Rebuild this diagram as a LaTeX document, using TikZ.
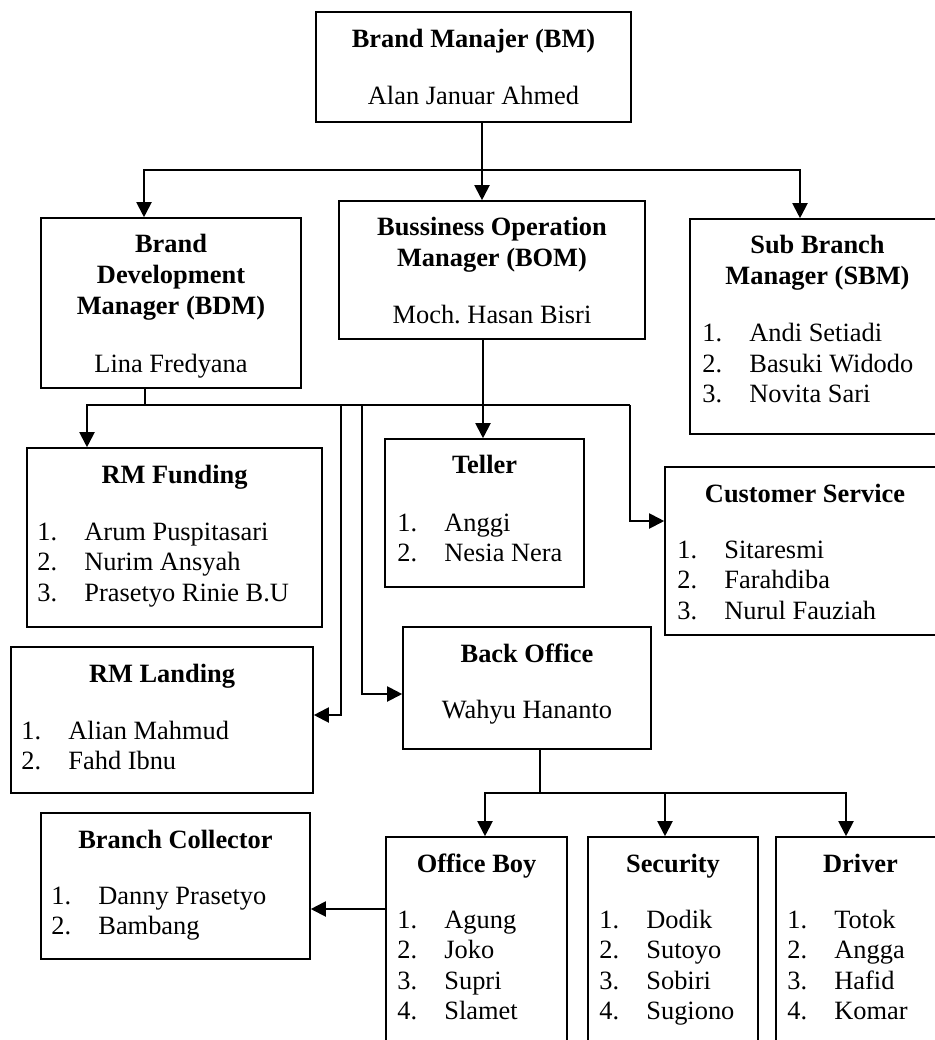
\documentclass[tikz,border=0pt]{standalone}
\usepackage{fontspec}
\setmainfont{Liberation Serif}
\usetikzlibrary{arrows.meta, positioning}
\frenchspacing

% numbered staff list: prefix, x, first baseline, names
\newcommand{\stafflist}[4]{%
  \foreach \who [count=\i] in {#4} {
    \node[member] (#1num\i) at (#2, #3+30.5*\i-30.5) {\i.};
    \node[member] (#1name\i) at (#2+47, #3+30.5*\i-30.5) {\who};
  }}

\begin{document}
\begin{tikzpicture}[
  x=0.5pt, y=-0.5pt,
  every node/.style={inner sep=0pt},
  unit/.style={draw, rectangle, line width=0.8pt},
  title/.style={anchor=base, align=center, font=\fontsize{13.2}{15.3}\selectfont\bfseries},
  holder/.style={anchor=base, font=\fontsize{13.2}{15.3}\selectfont},
  member/.style={anchor=base west, font=\fontsize{13.2}{15.3}\selectfont},
  link/.style={line width=1pt, line cap=rect},
  thinlink/.style={line width=0.6pt},
  arrow/.style={-{Triangle[length=7.5pt, width=7.5pt]}, line width=1pt}
]
\path[use as bounding box, clip] (0,0) rectangle (935,1040);

% Boxes
\node[unit, minimum width=157.5pt, minimum height=55pt] (bm) at (473.5,67) {};
\node[unit, minimum width=130pt, minimum height=85pt] (bdm) at (171,303) {};
\node[unit, minimum width=153pt, minimum height=69pt] (bom) at (492,270) {};
\node[unit, minimum width=127.5pt, minimum height=107.5pt] (sbm) at (817.5,326.5) {};
\node[unit, minimum width=99.5pt, minimum height=74pt] (teller) at (484.5,513) {};
\node[unit, minimum width=140pt, minimum height=84pt] (cs) at (805,551) {};
\node[unit, minimum width=147.5pt, minimum height=89.5pt] (rmf) at (174.5,537.5) {};
\node[unit, minimum width=151pt, minimum height=73pt] (rml) at (162,720) {};
\node[unit, minimum width=124pt, minimum height=61pt] (bo) at (527,688) {};
\node[unit, minimum width=134.5pt, minimum height=73pt] (bc) at (175.5,886) {};
\node[unit, minimum width=90.5pt, minimum height=111.5pt] (ob) at (476.5,948.5) {};
\node[unit, minimum width=85pt, minimum height=111.5pt] (sec) at (673,948.5) {};
\node[unit, minimum width=84.5pt, minimum height=111.5pt] (drv) at (860.5,948.5) {};

% Brand Manajer
\node[title] (bmT) at (473.5,47) {Brand Manajer (BM)};
\node[holder] (bmN) at (473.5,104.5) {Alan Januar Ahmed};

% Brand Development Manager
\node[title] (bdmT) at (171,314) {Brand\\Development\\Manager (BDM)};
\node[holder] (bdmN) at (171,372) {Lina Fredyana};

% Bussiness Operation Manager
\node[title] (bomT) at (492,266.5) {Bussiness Operation\\Manager (BOM)};
\node[holder] (bomN) at (492,323.5) {Moch. Hasan Bisri};

% Sub Branch Manager
\node[title] (sbmT) at (817.5,284) {Sub Branch\\Manager (SBM)};
\stafflist{sbm}{702}{341.5}{Andi Setiadi, Basuki Widodo, Novita Sari}

% Teller
\node[title] (tellerT) at (484.5,473) {Teller};
\stafflist{teller}{397}{531}{Anggi, Nesia Nera}

% Customer Service
\node[title] (csT) at (805,502) {Customer Service};
\stafflist{cs}{677}{558}{Sitaresmi, Farahdiba, Nurul Fauziah}

% RM Funding
\node[title] (rmfT) at (174.5,483) {RM Funding};
\stafflist{rmf}{37}{540}{Arum Puspitasari, Nurim Ansyah, Prasetyo Rinie B.U}

% RM Landing
\node[title] (rmlT) at (162,682) {RM Landing};
\stafflist{rml}{21}{739}{Alian Mahmud, Fahd Ibnu}

% Back Office
\node[title] (boT) at (527,662) {Back Office};
\node[holder] (boN) at (527,718.5) {Wahyu Hananto};

% Branch Collector
\node[title] (bcT) at (175.5,848) {Branch Collector};
\stafflist{bc}{51}{904}{Danny Prasetyo, Bambang}

% Office Boy, Security, Driver
\node[title] (obT) at (476.5,872) {Office Boy};
\stafflist{ob}{397}{928}{Agung, Joko, Supri, Slamet}
\node[title] (secT) at (673,872) {Security};
\stafflist{sec}{599}{928}{Dodik, Sutoyo, Sobiri, Sugiono}
\node[title] (drvT) at (860.5,872) {Driver};
\stafflist{drv}{787}{928}{Totok, Angga, Hafid, Komar}

% Connectors from BM
\coordinate (split1) at (482,170);
\draw[link] ([xshift=4.25pt]bm.south) -- (split1);
\draw[arrow] (split1) -| ([xshift=-13.5pt]bdm.north);
\draw[arrow] (split1) -- (split1 |- bom.north);
\draw[arrow] (split1) -| ([xshift=-8.75pt]sbm.north);

% Connectors from BDM
\coordinate (split2) at (145,405);
\coordinate (tapF) at (87,405);
\coordinate (tapL) at (341,405);
\coordinate (tapB) at (362,405);
\coordinate (tapC) at (630,405);
\draw[thinlink] ([xshift=-13pt]bdm.south) -- (split2);
\draw[arrow] (tapC) -- (tapF) -- (tapF |- rmf.north);
\draw[arrow] (tapL) |- ([yshift=2.5pt]rml.east);
\draw[arrow] (tapB) |- ([yshift=-3pt]bo.west);
\draw[arrow] (tapC) |- ([yshift=15pt]cs.west);

% BOM to Teller
\coordinate (bomdrop) at ([xshift=-4.5pt]bom.south);
\draw[arrow] (bomdrop) -- (bomdrop |- teller.north);

% Connectors from Back Office
\coordinate (split3) at (540,793);
\draw[thinlink] ([xshift=6.5pt]bo.south) -- (split3);
\draw[arrow] (split3) -| ([xshift=4.25pt]ob.north);
\draw[arrow] (split3) -| ([xshift=-4pt]sec.north);
\draw[arrow] (split3) -| ([xshift=-7.25pt]drv.north);

% Office Boy to Branch Collector
\coordinate (obside) at ([yshift=19.75pt]ob.west);
\draw[arrow] (obside) -- (obside -| bc.east);

\end{tikzpicture}
\end{document}
